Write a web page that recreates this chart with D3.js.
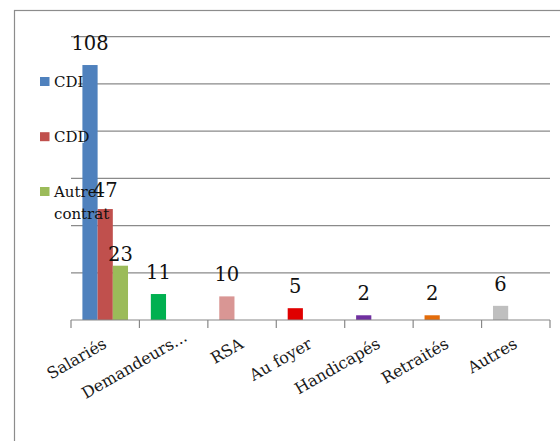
<!DOCTYPE html>
<html><head><meta charset="utf-8">
<script src="https://cdn.jsdelivr.net/npm/d3@7"></script>
<style>body{margin:0;background:#fff}svg{display:block}</style>
</head><body>
<svg id="c" width="560" height="441"></svg>
<script>
const categories = ["Salariés","Demandeurs...","RSA","Au foyer","Handicapés","Retraités","Autres"];
const series = ["CDI","CDD","Autre contrat"];
const cdi   = [108, 11, 10, 5, 2, 2, 6];
const cdd   = [47, null, null, null, null, null, null];
const autre = [23, null, null, null, null, null, null];
const seriesColors = ["#4f81bd","#c0504d","#9bbb59"];
const pointColors = [null,"#00b050","#d99694","#e00000","#7030a0","#e46c0a","#bfbfbf"];
const yTicks = [0,20,40,60,80,100,120];

const svg = d3.select("#c");
const serif = "'DejaVu Serif', serif";

// outer frame
svg.append("rect").attr("x",14.5).attr("y",10.5).attr("width",700).attr("height",600)
  .attr("fill","none").attr("stroke","#8c8c8c").attr("stroke-width",1.2);

const x = d3.scaleBand().domain(categories).range([71,550]).padding(0);
const x1 = d3.scaleBand().domain(series).range([0,x.bandwidth()]).paddingInner(0).paddingOuter(0.75);
const y = d3.scaleLinear().domain([0,120]).range([320,36.7]);

// gridlines
svg.append("g").selectAll("line").data(yTicks.filter(d=>d>0)).join("line")
  .attr("x1",71).attr("x2",550).attr("y1",d=>y(d)).attr("y2",d=>y(d))
  .attr("stroke","#8a8a8a").attr("stroke-width",1.2);

const valuesBySeries = [cdi, cdd, autre];
const bars = [];
valuesBySeries.forEach((vals,si)=>{
  vals.forEach((v,ci)=>{
    if(v==null) return;
    bars.push({cat:categories[ci], s:series[si], v,
      color: (si===0 && pointColors[ci]) ? pointColors[ci] : seriesColors[si]});
  });
});

svg.append("g").selectAll("rect").data(bars).join("rect")
  .attr("x",d=>x(d.cat)+x1(d.s)).attr("width",x1.bandwidth())
  .attr("y",d=>y(d.v)).attr("height",d=>y(0)-y(d.v))
  .attr("fill",d=>d.color);

// axis line and ticks
const axis = svg.append("g").attr("stroke","#888").attr("stroke-width",1.2);
axis.append("line").attr("x1",71).attr("x2",550).attr("y1",y(0)).attr("y2",y(0));
const bounds = categories.map(c=>x(c)).concat([x.range()[1]]);
axis.selectAll("line.t").data(bounds).join("line").attr("class","t")
  .attr("x1",d=>d).attr("x2",d=>d).attr("y1",y(0)).attr("y2",y(0)+8);

// category labels
svg.append("g").selectAll("text").data(categories).join("text")
  .attr("transform",d=>`translate(${x(d)+x.bandwidth()/2+2.5},347) rotate(-30)`)
  .attr("dx",d=>d.endsWith("...")?14:0)
  .attr("text-anchor","end").attr("font-family",serif).attr("font-size",16)
  .attr("fill","#1a1a1a").text(d=>d);

// legend
const legendY = [81.5, 136.7, 191.5];
const lg = svg.append("g");
series.forEach((s,i)=>{
  lg.append("rect").attr("x",40).attr("y",legendY[i]-4.5).attr("width",9.5).attr("height",9)
    .attr("fill",seriesColors[i]);
});
["CDI","CDD"].forEach((s,i)=>{
  lg.append("rect").attr("x",53).attr("y",legendY[i]-6).attr("width",s==="CDI"?25:31).attr("height",12).attr("fill","#fff");
});
series.forEach((s,i)=>{
  const words = s.split(" ");
  const t = lg.append("text").attr("x",54).attr("y",legendY[i]+5.5)
    .attr("font-family",serif).attr("font-size",15).attr("fill","#111");
  words.forEach((w,k)=>t.append("tspan").attr("x",54).attr("dy",k?21.5:0).text(w));
});

// data labels
const gap = {"CDI":15, "CDD":12, "Autre contrat":5};
svg.append("g").selectAll("text").data(bars).join("text")
  .attr("x",d=>x(d.cat)+x1(d.s)+x1.bandwidth()/2)
  .attr("y",d=>y(d.v)-gap[d.s])
  .attr("text-anchor","middle").attr("font-family",serif).attr("font-size",19.5)
  .attr("fill","#111").text(d=>d.v);
</script>
</body></html>
